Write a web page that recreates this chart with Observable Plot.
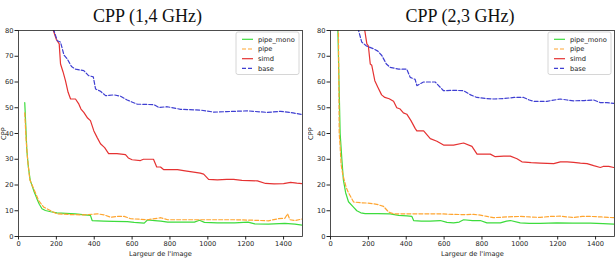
<!DOCTYPE html>
<html>
<head>
<meta charset="utf-8">
<script src="https://cdn.jsdelivr.net/npm/d3@7"></script>
<script src="https://cdn.jsdelivr.net/npm/@observablehq/plot@0.6"></script>
<style>
  html, body { margin: 0; padding: 0; background: white; }
  #root { position: relative; width: 616px; height: 260px; overflow: hidden; }
  .panel { position: absolute; top: 0; width: 308px; height: 260px; }
</style>
</head>
<body>
<div id="root">
  <div class="panel" id="p1" style="left:0px"></div>
  <div class="panel" id="p2" style="left:308px"></div>
</div>
<script>
// ---- tick labels / categories ----
const xTicks = [0, 200, 400, 600, 800, 1000, 1200, 1400];
const yTicks = [0, 10, 20, 30, 40, 50, 60, 70, 80];
const seriesNames = ["pipe_mono", "pipe", "simd", "base"];
const titles = ["CPP (1,4 GHz)", "CPP (2,3 GHz)"];
const xLabel = "Largeur de l'image";
const yLabel = "CPP";

// ---- 1,4 GHz series: [largeur, CPP] ----
const pipeMono14 = [[33,52],[38,44],[44,33.5],[52,27],[62,21.8],[80,17.9],[97,14.7],[110,12.5],[124,10.8],[142,10.1],[170,9.6],[203,9.2],[250,9],[300,8.8],[350,8.4],[380,8.2],[389,6.2],[450,6],[500,5.9],[575,5.8],[611,5.5],[664,5.2],[681,6.4],[720,6.2],[752,6],[788,5.6],[850,5.6],[929,5.6],[956,6.3],[982,5.5],[1050,5.3],[1142,5.3],[1212,5.6],[1248,4.9],[1319,4.8],[1407,5.1],[1460,4.8],[1500,4.4]];
const pipe14 = [[33,48],[40,38],[48,30],[60,22],[80,18.6],[106,14],[133,11.4],[168,10.1],[203,8.8],[280,8.5],[345,8.4],[416,8.8],[451,8.4],[487,7.5],[520,7.8],[558,7.8],[593,6.9],[640,6.7],[681,6.5],[752,7.3],[788,6.5],[900,6.5],[1000,6.5],[1142,6.5],[1250,6.3],[1319,6.1],[1372,6.9],[1407,7.1],[1421,8.8],[1434,6.5],[1460,6.2],[1500,6.8]];
const simd14 = [[165,92],[184,80],[200,76.5],[215,74.8],[222,67],[235,64],[248,60.5],[262,56],[275,53.4],[301,53.4],[319,51.4],[330,49.5],[345,48.2],[365,46],[380,45],[398,41],[415,38.5],[433,36],[455,34.5],[476,32.2],[520,32.2],[565,31.8],[580,30.5],[600,29.8],[644,29.5],[660,30],[713,30],[730,27],[750,27],[766,26],[800,26],[840,26],[880,25.5],[925,25],[960,24.6],[978,24.2],[1004,22.2],[1050,22],[1100,22.2],[1136,22.2],[1180,21.8],[1262,21.6],[1305,20.6],[1350,20.4],[1400,20.5],[1437,21],[1470,20.7],[1500,20.5]];
const base14 = [[172,90],[187,80],[205,76],[222,75.5],[240,70.5],[257,69],[280,66],[301,65],[345,64.4],[370,62.5],[395,62],[407,57.3],[433,56.4],[460,54.7],[504,55],[539,54.5],[574,53],[627,51.4],[715,51.2],[741,50.1],[785,50.4],[856,49.4],[961,49.1],[1032,48.3],[1100,48.5],[1208,48.8],[1313,48.2],[1384,48.6],[1450,48],[1500,47.3]];

// ---- 2,3 GHz series: [largeur, CPP] ----
const pipeMono23 = [[36,100],[39,80],[45,60],[51,40],[60,30],[68,22],[80,17],[95,13.5],[120,11.5],[139,10],[160,9.2],[183,8.9],[250,8.9],[315,8.8],[360,8.2],[404,8],[430,7.8],[439,6.2],[480,6],[527,6],[580,6.2],[615,5.5],[650,5.3],[680,5.6],[703,6.5],[750,6.2],[791,6.2],[826,5.3],[897,5.3],[930,6],[950,6.2],[1002,5.3],[1050,5.1],[1108,5.1],[1196,5.3],[1280,5.2],[1372,5.2],[1440,5],[1496,4.8]];
const pipe23 = [[38,100],[42,80],[44,60],[46,40],[51,34.8],[56,28],[65,24],[83,19],[95,17],[122,13.4],[160,13.1],[192,13],[245,12.5],[280,11.7],[307,9.5],[333,8.8],[404,8.8],[500,8.8],[580,8.8],[640,8.6],[703,8.5],[756,8.6],[791,8.3],[826,7.8],[860,7.3],[932,7.6],[1003,7.8],[1050,7.6],[1108,7.4],[1160,7.8],[1214,7.9],[1250,7.6],[1285,7.4],[1330,7.8],[1373,7.8],[1430,7.6],[1496,7.3]];
const simd23 = [[170,90],[181,80],[192,74.8],[200,74],[210,67],[218,66.5],[234,60.5],[250,58],[270,55],[287,54],[310,53.5],[333,52.5],[350,50],[368,49.5],[385,48],[403,47.5],[425,45],[447,42],[456,41],[492,41],[510,39.5],[527,38],[562,37],[597,35.5],[650,35.5],[703,36.3],[747,35],[774,32],[800,32],[844,32],[870,31],[915,31.2],[950,31.2],[985,30.2],[1011,29],[1060,28.7],[1108,28.5],[1179,28.3],[1214,29],[1250,29],[1284,28.8],[1320,28.5],[1355,28.3],[1390,27.5],[1425,26.8],[1440,27.2],[1470,27.2],[1496,26.8]];
const base23 = [[135,88],[148,80],[165,75.5],[190,74],[227,72.9],[250,72],[271,70.3],[295,67],[315,65.7],[360,65],[403,65],[421,61.8],[447,61],[456,58.6],[491,60],[530,60],[553,60],[597,56.6],[650,56.8],[703,56.6],[740,55],[773,54],[820,53.6],[861,53.4],[920,53.6],[970,54],[1020,54],[1050,53],[1072,52.5],[1143,52.5],[1214,53.4],[1250,53],[1284,52.7],[1340,52.8],[1390,53],[1425,52],[1460,52],[1496,51.7]];

// ---- styles ----
const seriesColors = ["#3ddc3d", "#ffa530", "#e53232", "#3f3fd2"];
const seriesDash = [null, "4,2", null, "4,2"];

function panel(el, title, seriesData, cfg) {
  const rows = [];
  seriesNames.forEach((name, i) => seriesData[i].forEach(([x, y]) => rows.push({series: name, x, y})));
  const W = 308, H = 260;
  const lines = seriesNames.map((name, i) =>
    Plot.line(rows.filter(d => d.series === name), {
      x: "x", y: "y", stroke: "series", strokeWidth: 1.2,
      strokeDasharray: seriesDash[i] || undefined, clip: true
    })
  );
  const svg = Plot.plot({
    width: W, height: H,
    marginLeft: cfg.ml, marginRight: cfg.mr, marginTop: 30, marginBottom: 24,
    style: {fontFamily: "DejaVu Sans", fontSize: "6.7px", color: "#222", background: "white", overflow: "hidden"},
    x: {domain: [0, 1500]},
    y: {domain: [0, 80]},
    color: {domain: seriesNames, range: seriesColors},
    marks: [
      Plot.axisX({ticks: xTicks, tickFormat: d => String(d), tickSize: 3.5, tickPadding: 1.5, label: xLabel, labelAnchor: "center", labelArrow: "none", labelOffset: 19}),
      Plot.axisY({ticks: yTicks, tickFormat: d => String(d), tickSize: 3.5, tickPadding: 1.5, label: yLabel, labelAnchor: "center", labelArrow: "none", labelOffset: cfg.ylo}),
      ...lines,
      Plot.frame({stroke: "#222", strokeWidth: 0.8})
    ]
  });
  const s = d3.select(svg);
  // title
  s.append("text").attr("x", cfg.tx).attr("y", 22).attr("text-anchor", "middle")
    .style("font-family", "'Liberation Serif', serif").style("font-size", "18px").attr("fill", "#111")
    .text(title);
  // legend
  const axRight = W - cfg.mr;
  const bx = axRight - 3 - 63, by = 32;
  const g = s.append("g");
  g.append("rect").attr("x", bx).attr("y", by).attr("width", 63).attr("height", 42.5).attr("rx", 2)
    .attr("fill", "white").attr("fill-opacity", 0.8).attr("stroke", "#cccccc").attr("stroke-width", 0.8);
  seriesNames.forEach((name, i) => {
    const yy = by + 7.3 + i * 9.7;
    g.append("line").attr("x1", bx + 6).attr("x2", bx + 17).attr("y1", yy).attr("y2", yy)
      .attr("stroke", seriesColors[i]).attr("stroke-width", 1.2)
      .attr("stroke-dasharray", seriesDash[i]);
    g.append("text").attr("x", bx + 22).attr("y", yy).attr("dy", "0.35em")
      .attr("text-anchor", "start")
      .style("font-family", "DejaVu Sans").style("font-size", "6.7px").attr("fill", "#222").text(name);
  });
  el.appendChild(svg);
}

panel(document.getElementById("p1"), titles[0], [pipeMono14, pipe14, simd14, base14], {ml: 18, mr: 6, ylo: 17.5, tx: 147.5});
panel(document.getElementById("p2"), titles[1], [pipeMono23, pipe23, simd23, base23], {ml: 22, mr: 2, ylo: 22, tx: 152});
</script>
</body>
</html>
